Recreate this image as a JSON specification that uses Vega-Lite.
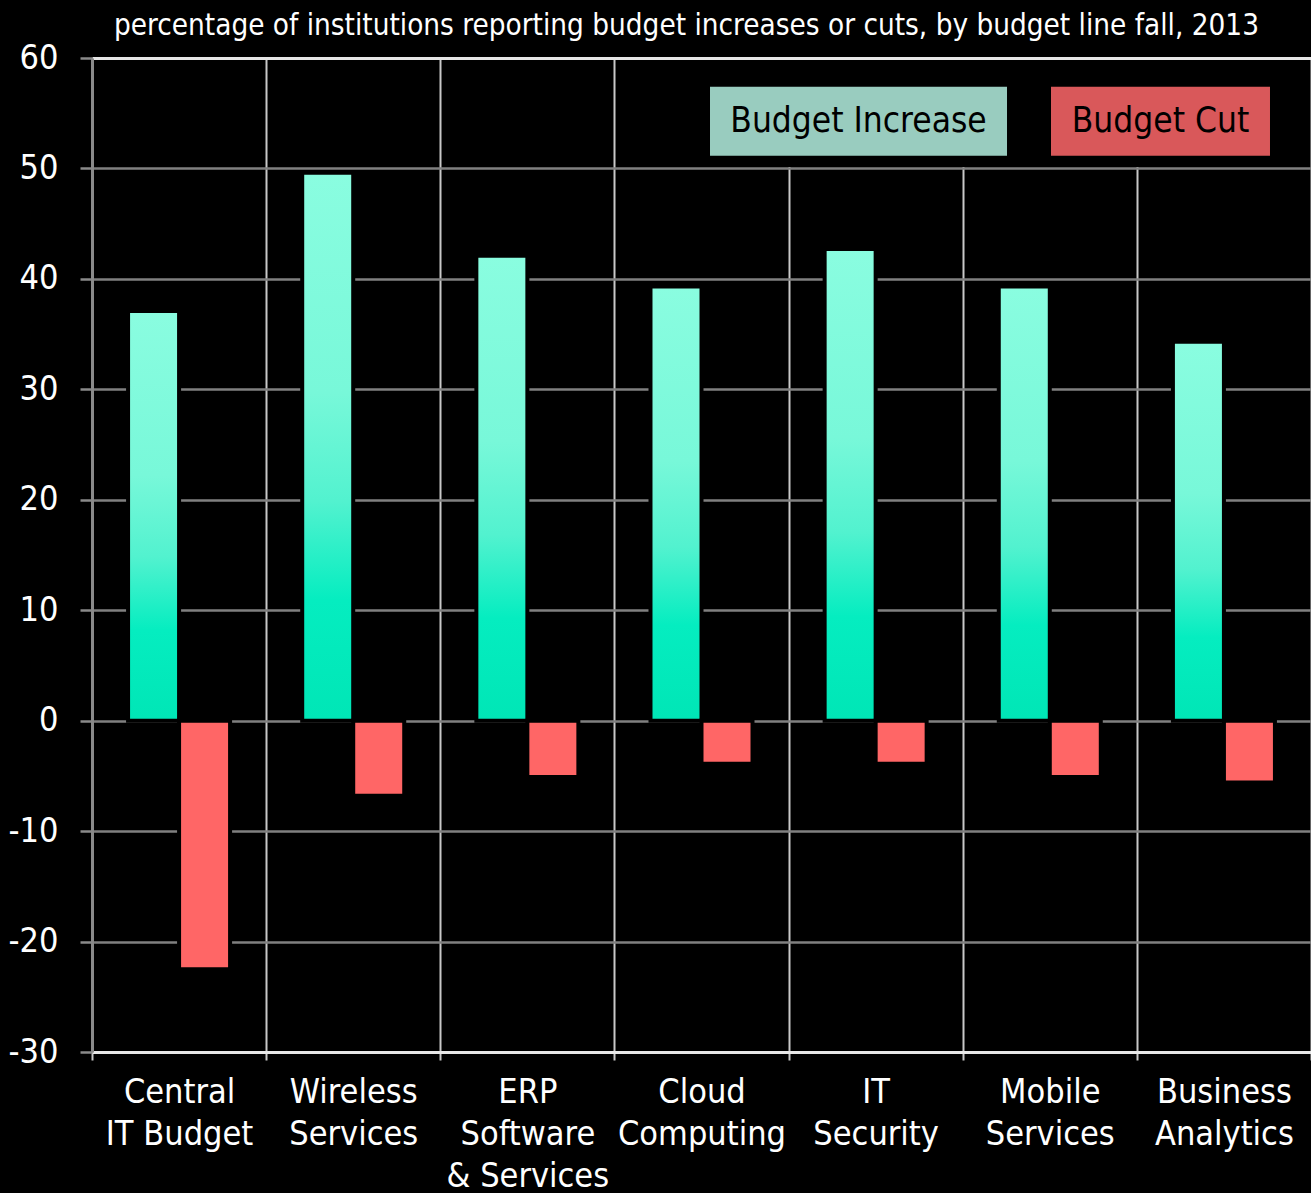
{
  "$schema": "https://vega.github.io/schema/vega-lite/v6.json",
  "autosize": {"type": "none"},
  "padding": {"left": 92, "top": 58, "right": 0, "bottom": 141},
  "width": 1219,
  "height": 994,
  "background": "black",
  "title": {
    "text": "percentage of institutions reporting budget increases or cuts, by budget line fall, 2013",
    "color": "white",
    "font": "DejaVu Sans Condensed, sans-serif",
    "fontSize": 29.4,
    "fontWeight": "normal",
    "anchor": "middle",
    "dx": -15,
    "offset": 0
  },
  "config": {
    "view": {"stroke": null},
    "font": "DejaVu Sans Condensed, sans-serif"
  },
  "data": {
    "values": [
      {"category": "Central\nIT Budget", "type": "Budget Increase", "value": 37.1},
      {"category": "Central\nIT Budget", "type": "Budget Cut", "value": -22.5},
      {"category": "Wireless\nServices", "type": "Budget Increase", "value": 49.6},
      {"category": "Wireless\nServices", "type": "Budget Cut", "value": -6.8},
      {"category": "ERP\nSoftware\n& Services", "type": "Budget Increase", "value": 42.1},
      {"category": "ERP\nSoftware\n& Services", "type": "Budget Cut", "value": -5.1},
      {"category": "Cloud\nComputing", "type": "Budget Increase", "value": 39.3},
      {"category": "Cloud\nComputing", "type": "Budget Cut", "value": -3.9},
      {"category": "IT\nSecurity", "type": "Budget Increase", "value": 42.7},
      {"category": "IT\nSecurity", "type": "Budget Cut", "value": -3.9},
      {"category": "Mobile\nServices", "type": "Budget Increase", "value": 39.3},
      {"category": "Mobile\nServices", "type": "Budget Cut", "value": -5.1},
      {"category": "Business\nAnalytics", "type": "Budget Increase", "value": 34.3},
      {"category": "Business\nAnalytics", "type": "Budget Cut", "value": -5.6}
    ]
  },
  "encoding": {
    "x": {
      "field": "category",
      "type": "nominal",
      "sort": null,
      "scale": {"paddingInner": 0, "paddingOuter": 0},
      "axis": {
        "title": null,
        "labelAngle": 0,
        "tickBand": "extent",
        "grid": true,
        "gridColor": "#c8c8c8",
        "gridWidth": 2,
        "domainColor": "#e8e8e8",
        "domainWidth": 3,
        "tickColor": "#c8c8c8",
        "tickWidth": 2,
        "tickSize": 8,
        "labelColor": "white",
        "labelFontSize": 34,
        "labelLineHeight": 42,
        "labelPadding": 15,
        "labelBaseline": "top",
        "labelLimit": 300,
        "labelExpr": "split(datum.label, '\\n')"
      }
    },
    "y": {
      "field": "value",
      "type": "quantitative",
      "scale": {"domain": [-30, 60], "nice": false, "zero": false},
      "axis": {
        "title": null,
        "values": [-30, -20, -10, 0, 10, 20, 30, 40, 50, 60],
        "labelExpr": "'' + datum.value",
        "grid": true,
        "gridColor": {"condition": {"test": "datum.value === 60", "value": "#e6e6e6"}, "value": "#808080"},
        "gridWidth": {"condition": {"test": "datum.value === 60", "value": 3}, "value": 2.5},
        "domainColor": "#8a8a8a",
        "domainWidth": 3,
        "tickColor": "#8a8a8a",
        "tickWidth": 2.5,
        "tickSize": 12,
        "labelColor": "white",
        "labelFontSize": 34,
        "labelPadding": 22
      }
    },
    "xOffset": {
      "field": "type",
      "type": "nominal",
      "scale": {"domain": ["Budget Increase", "Budget Cut"], "paddingInner": 0, "paddingOuter": 0.707}
    }
  },
  "layer": [
    {
      "transform": [{"filter": "datum.type === 'Budget Increase'"}],
      "mark": {
        "type": "bar",
        "stroke": "black",
        "strokeWidth": 4,
        "fill": {
          "gradient": "linear",
          "x1": 0, "y1": 0, "x2": 0, "y2": 1,
          "stops": [
            {"offset": 0, "color": "#8AFDE0"},
            {"offset": 0.4, "color": "#78F8D9"},
            {"offset": 0.6, "color": "#52F2CF"},
            {"offset": 0.78, "color": "#05EDC0"},
            {"offset": 1, "color": "#00E6B6"}
          ]
        }
      }
    },
    {
      "transform": [{"filter": "datum.type === 'Budget Cut'"}],
      "mark": {"type": "bar", "stroke": "black", "strokeWidth": 4, "fill": "#FF6666"}
    },
    {
      "mark": {"type": "point", "filled": true, "opacity": 0},
      "encoding": {
        "color": {
          "field": "type",
          "type": "nominal",
          "scale": {"domain": ["Budget Increase", "Budget Cut"], "range": ["#99CCBF", "#D9585A"]},
          "legend": {
            "orient": "none",
            "legendX": 572,
            "legendY": 2,
            "direction": "horizontal",
            "title": " ",
            "titleFontSize": 10,
            "titlePadding": 5,
            "padding": 11,
            "fillColor": "black",
            "symbolType": "M0,-0.986H8.486V0.986H0Z",
            "symbolSize": 4900,
            "symbolStrokeWidth": 0,
            "symbolOpacity": 1,
            "labelAlign": "center",
            "labelBaseline": "middle",
            "labelOffset": 0,
            "labelFontSize": 35,
            "labelColor": "black",
            "labelLimit": 500,
            "columnPadding": 8,
            "encode": {
              "symbols": {
                "update": {
                  "shape": {"signal": "datum.value === 'Budget Cut' ? 'M0,-0.986H6.257V0.986H0Z' : 'M0,-0.986H8.486V0.986H0Z'"},
                  "opacity": {"value": 1}
                }
              },
              "labels": {
                "update": {
                  "x": {"signal": "datum.value === 'Budget Cut' ? 144.5 : 183.5"}
                }
              }
            }
          }
        }
      }
    }
  ]
}
